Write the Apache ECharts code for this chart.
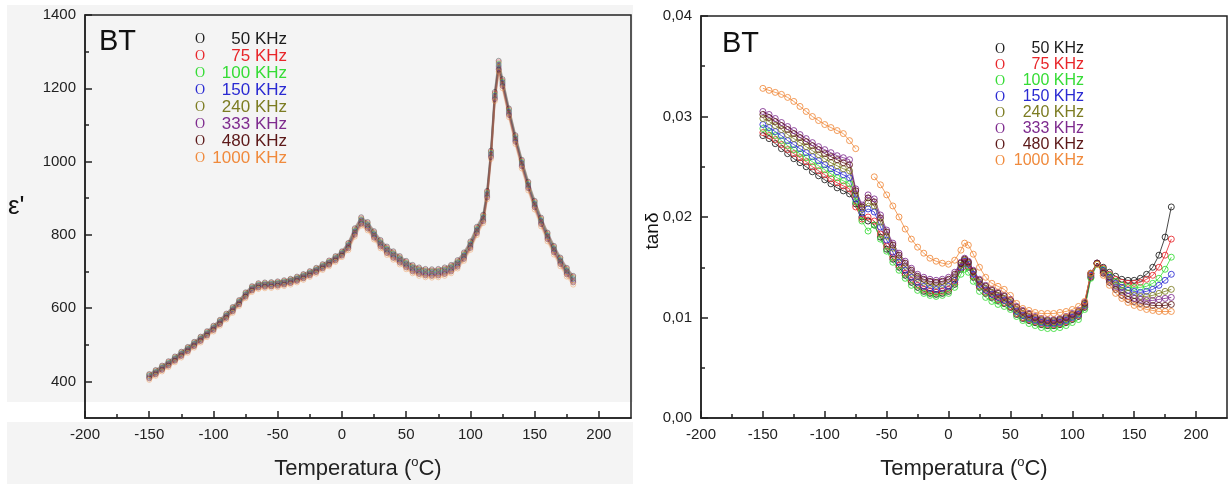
<!DOCTYPE html>
<html><head><meta charset="utf-8">
<script src="https://cdn.jsdelivr.net/npm/echarts@6/dist/echarts.min.js"></script>
<style>html,body{margin:0;padding:0;background:#fff}#c{width:1229px;height:484px}</style>
</head><body><div id="c"></div>
<script>
// ---------- data ----------
const freqNames = ['50 KHz','75 KHz','100 KHz','150 KHz','240 KHz','333 KHz','480 KHz','1000 KHz'];
const freqColors = ['#1c1c1c','#e8262a','#35dc35','#2a2ad2','#7c7c22','#7e2b8e','#5c1818','#f08a3c'];

// Left panel: permittivity vs temperature
const tempLeft = [-150,-145,-140,-135,-130,-125,-120,-115,-110,-105,-100,-95,-90,-85,-80,-75,-70,-65,-60,-55,-50,-45,-40,-35,-30,-25,-20,-15,-10,-5,0,5,10,15,20,25,30,35,40,45,50,55,60,65,70,75,80,85,90,95,100,105,110,113,116,119,122,125,130,135,140,145,150,155,160,165,170,175,180];
const eps50 = [420,431,443,455,468,481,494,508,522,537,552,568,585,603,622,643,660,668,670,671,673,676,680,686,693,701,710,720,730,742,755,778,818,848,835,810,786,768,755,742,729,718,711,707,706,707,711,718,731,752,782,822,855,920,1030,1190,1275,1225,1145,1072,1005,945,893,847,806,770,738,710,688];
const eps75 = [418,429,441,453,466,479,492,506,520,535,550,566,583,601,620,641,658,666,668,669,671,674,678,684,691,699,708,718,728,740,753,776,815,845,832,807,783,765,752,739,726,715,708,704,703,704,708,715,728,749,779,819,852,917,1027,1186,1271,1221,1142,1069,1002,942,890,844,803,767,735,707,685];
const eps100 = [416,427,439,451,464,477,490,504,518,533,548,564,581,599,618,639,656,664,666,667,669,672,676,682,689,697,706,716,726,738,751,773,812,842,829,804,780,762,749,736,723,712,705,701,700,701,705,712,725,746,776,816,849,914,1024,1182,1267,1218,1139,1066,999,939,887,841,800,764,732,704,682];
const eps150 = [414,425,437,449,462,475,488,502,516,531,546,562,579,597,616,637,654,662,664,665,667,670,674,680,687,695,704,714,724,736,749,771,809,839,826,801,777,759,746,733,720,709,702,698,697,698,702,709,722,743,773,813,846,911,1021,1179,1263,1215,1136,1063,996,936,884,838,797,761,729,701,679];
const eps240 = [412,423,435,447,460,473,486,500,514,529,544,560,577,595,614,635,652,660,662,663,665,668,672,678,685,693,702,712,722,734,747,768,806,836,823,798,774,756,743,730,717,706,699,695,694,695,699,706,719,740,770,810,843,908,1018,1176,1259,1212,1133,1060,993,933,881,835,794,758,726,698,676];
const eps333 = [410,421,433,445,458,471,484,498,512,527,542,558,575,593,612,633,650,658,660,661,663,666,670,676,683,691,700,710,720,732,745,766,803,833,820,795,771,753,740,727,714,703,696,692,691,692,696,703,716,737,767,807,840,905,1015,1173,1255,1209,1130,1057,990,930,878,832,791,755,723,695,673];
const eps480 = [408,419,431,443,456,469,482,496,510,525,540,556,573,591,610,631,648,656,658,659,661,664,668,674,681,689,698,708,718,730,743,763,800,830,817,792,768,750,737,724,711,700,693,689,688,689,693,700,713,734,764,804,837,902,1012,1170,1251,1206,1127,1054,987,927,875,829,788,752,720,692,670];
const eps1000 = [404,415,427,439,452,465,478,492,506,521,536,552,569,587,606,627,644,652,654,655,657,660,664,670,677,685,694,704,714,726,739,758,795,825,812,787,763,745,732,719,706,695,688,684,683,684,688,695,708,729,759,799,832,897,1007,1165,1245,1200,1121,1048,981,921,869,823,782,746,714,686,664];

// Right panel: loss tangent vs temperature
const tempRight = [-150,-145,-140,-135,-130,-125,-120,-115,-110,-105,-100,-95,-90,-85,-80,-75,-70,-65,-60,-55,-50,-45,-40,-35,-30,-25,-20,-15,-10,-5,0,5,10,13,16,20,25,30,35,40,45,50,55,60,65,70,75,80,85,90,95,100,105,110,115,120,125,130,135,140,145,150,155,160,165,170,175,180];
const tan50 = [0.0281,0.0278,0.0273,0.0268,0.0263,0.0258,0.0254,0.0250,0.0245,0.0241,
  0.0237,0.0233,0.0229,0.0226,0.0223,0.0213,0.0200,0.0196,0.0192,0.0180,
  0.0168,0.0158,0.0150,0.0142,0.0135,0.0130,0.0126,0.0124,0.0123,0.0124,
  0.0126,0.0133,0.0148,0.0154,0.0150,0.0140,0.0130,0.0124,0.0120,0.0117,
  0.0114,0.0110,0.0103,0.0099,0.0097,0.0095,0.0093,0.0092,0.0092,0.0093,
  0.0095,0.0098,0.0101,0.0110,0.0140,0.0154,0.0150,0.0145,0.0141,0.0138,
  0.0137,0.0137,0.0139,0.0143,0.0150,0.0162,0.0180,0.0210];
const tan75 = [0.0284,0.0281,0.0277,0.0272,0.0267,0.0263,0.0259,0.0255,0.0250,0.0246,
  0.0242,0.0238,0.0234,0.0231,0.0228,0.0210,0.0198,0.0200,0.0196,0.0183,
  0.0171,0.0160,0.0152,0.0144,0.0137,0.0132,0.0128,0.0126,0.0125,0.0126,
  0.0128,0.0135,0.0149,0.0155,0.0151,0.0141,0.0131,0.0125,0.0121,0.0118,
  0.0115,0.0111,0.0104,0.0100,0.0098,0.0096,0.0094,0.0093,0.0093,0.0094,
  0.0096,0.0099,0.0102,0.0111,0.0141,0.0154,0.0149,0.0143,0.0138,0.0135,
  0.0134,0.0134,0.0135,0.0138,0.0142,0.0150,0.0162,0.0178];
const tan100 = [0.0288,0.0285,0.0281,0.0276,0.0271,0.0267,0.0263,0.0259,0.0255,0.0251,
  0.0247,0.0243,0.0239,0.0236,0.0233,0.0215,0.0196,0.0186,0.0192,0.0178,
  0.0166,0.0155,0.0147,0.0139,0.0132,0.0127,0.0124,0.0122,0.0121,0.0122,
  0.0124,0.0130,0.0143,0.0148,0.0145,0.0136,0.0126,0.0120,0.0116,0.0113,
  0.0111,0.0108,0.0101,0.0097,0.0094,0.0092,0.0090,0.0089,0.0089,0.0090,
  0.0092,0.0095,0.0098,0.0108,0.0139,0.0153,0.0148,0.0142,0.0136,0.0132,
  0.0130,0.0130,0.0130,0.0131,0.0134,0.0139,0.0148,0.0160];
const tan150 = [0.0292,0.0289,0.0285,0.0281,0.0276,0.0272,0.0268,0.0264,0.0260,0.0256,
  0.0252,0.0248,0.0245,0.0242,0.0239,0.0218,0.0204,0.0208,0.0205,0.0190,
  0.0177,0.0165,0.0155,0.0147,0.0140,0.0135,0.0131,0.0129,0.0128,0.0129,
  0.0131,0.0137,0.0150,0.0156,0.0153,0.0143,0.0133,0.0127,0.0123,0.0120,
  0.0117,0.0113,0.0106,0.0102,0.0099,0.0097,0.0095,0.0094,0.0094,0.0095,
  0.0097,0.0100,0.0103,0.0112,0.0142,0.0154,0.0147,0.0140,0.0134,0.0130,
  0.0127,0.0126,0.0125,0.0126,0.0128,0.0132,0.0137,0.0143];
const tan240 = [0.0298,0.0295,0.0291,0.0287,0.0282,0.0278,0.0274,0.0270,0.0266,0.0262,
  0.0258,0.0254,0.0251,0.0248,0.0246,0.0222,0.0208,0.0214,0.0211,0.0195,
  0.0181,0.0169,0.0159,0.0151,0.0144,0.0139,0.0135,0.0133,0.0132,0.0133,
  0.0135,0.0140,0.0152,0.0157,0.0154,0.0145,0.0135,0.0129,0.0125,0.0122,
  0.0119,0.0115,0.0108,0.0104,0.0101,0.0099,0.0097,0.0096,0.0096,0.0097,
  0.0099,0.0102,0.0105,0.0113,0.0143,0.0154,0.0146,0.0138,0.0132,0.0127,
  0.0124,0.0122,0.0121,0.0121,0.0122,0.0124,0.0126,0.0128];
const tan333 = [0.0305,0.0302,0.0298,0.0294,0.0290,0.0286,0.0282,0.0278,0.0274,0.0270,
  0.0267,0.0264,0.0261,0.0259,0.0257,0.0228,0.0212,0.0222,0.0218,0.0202,
  0.0187,0.0174,0.0164,0.0156,0.0149,0.0143,0.0140,0.0138,0.0137,0.0138,
  0.0140,0.0145,0.0155,0.0159,0.0156,0.0147,0.0138,0.0132,0.0128,0.0125,
  0.0122,0.0118,0.0111,0.0107,0.0104,0.0101,0.0099,0.0098,0.0098,0.0099,
  0.0101,0.0104,0.0107,0.0115,0.0144,0.0154,0.0145,0.0137,0.0130,0.0125,
  0.0121,0.0119,0.0118,0.0117,0.0117,0.0118,0.0119,0.0120];
const tan480 = [0.0302,0.0299,0.0295,0.0291,0.0287,0.0283,0.0279,0.0275,0.0271,0.0267,
  0.0263,0.0260,0.0257,0.0254,0.0252,0.0226,0.0210,0.0219,0.0215,0.0199,
  0.0185,0.0172,0.0162,0.0154,0.0147,0.0141,0.0138,0.0136,0.0135,0.0136,
  0.0138,0.0143,0.0154,0.0158,0.0155,0.0146,0.0137,0.0131,0.0127,0.0124,
  0.0121,0.0117,0.0110,0.0106,0.0103,0.0100,0.0098,0.0097,0.0097,0.0098,
  0.0100,0.0103,0.0106,0.0114,0.0144,0.0154,0.0144,0.0135,0.0128,0.0122,
  0.0118,0.0116,0.0114,0.0113,0.0112,0.0112,0.0112,0.0113];
const tan1000 = [0.0328,0.0326,0.0324,0.0322,0.0319,0.0315,0.0310,0.0305,0.0300,0.0296,
  0.0292,0.0289,0.0286,0.0283,0.0276,0.0268,null,null,0.0240,0.0232,
  0.0222,0.0211,0.0200,0.0188,0.0178,0.0170,0.0164,0.0159,0.0156,0.0154,
  0.0153,0.0157,0.0167,0.0174,0.0172,0.0163,0.0150,0.0140,0.0134,0.0131,
  0.0128,0.0122,0.0114,0.0109,0.0107,0.0105,0.0104,0.0104,0.0104,0.0105,
  0.0106,0.0108,0.0111,0.0116,0.0144,0.0153,0.0142,0.0132,0.0124,0.0119,
  0.0115,0.0112,0.0110,0.0108,0.0107,0.0106,0.0106,0.0106];

// ticks
const xMajorTicks = [-200,-150,-100,-50,0,50,100,150,200];
const xMinorTicks = [-175,-125,-75,-25,25,75,125,175];
const epsMajorTicks = [400,600,800,1000,1200,1400];
const epsMinorTicks = [500,700,900,1100,1300];
const tanMajorTicks = [0,0.01,0.02,0.03,0.04];
const tanMinorTicks = [0.005,0.015,0.025,0.035];

// ---------- chart ----------
const FONT = '"Liberation Sans", Arial, Helvetica, sans-serif';
const INK = '#222';
const chart = echarts.init(document.getElementById('c'));
const leftVals = [eps50, eps75, eps100, eps150, eps240, eps333, eps480, eps1000];
const rightVals = [tan50, tan75, tan100, tan150, tan240, tan333, tan480, tan1000];
const pairs = (ts, vs) => ts.map((t, i) => [t, vs[i] === null ? '-' : vs[i]]);

function majorAxis(gridIndex, min, max, ticks, extra) {
  return Object.assign({
    type: 'value', gridIndex, min, max,
    axisLine: { show: true, onZero: false, lineStyle: { color: INK, width: 1.5 } },
    axisTick: { show: true, inside: true, length: 7, customValues: ticks, lineStyle: { color: INK, width: 1.5 } },
    axisLabel: { customValues: ticks, color: INK, fontSize: 15, fontFamily: FONT, margin: 9, formatter: v => String(v) },
    splitLine: { show: false }
  }, extra || {});
}
function minorAxis(gridIndex, min, max, ticks, position) {
  return {
    type: 'value', gridIndex, min, max, position, offset: 0,
    axisLine: { show: false, onZero: false },
    axisTick: { show: true, inside: true, length: 4, customValues: ticks, lineStyle: { color: INK, width: 1.5 } },
    axisLabel: { show: false }, splitLine: { show: false }
  };
}
const titleName = 'Temperatura ({s|o}C)';
const nameStyle = { fontSize: 22, fontFamily: FONT, color: INK, lineHeight: 26,
  rich: { s: { fontSize: 13, fontFamily: FONT, color: INK, lineHeight: 14, verticalAlign: 'top' } } };

const series = [];
freqNames.forEach((n, i) => {
  series.push({
    name: n, type: 'line', xAxisIndex: 0, yAxisIndex: 0,
    data: pairs(tempLeft, leftVals[i]),
    symbol: 'circle', symbolSize: 5,
    itemStyle: { color: 'rgba(0,0,0,0)', borderColor: freqColors[i], borderWidth: 1, opacity: 0.4 },
    lineStyle: { color: freqColors[i], width: 2, opacity: 0.3 },
    emphasis: { disabled: true }, silent: true
  });
});
freqNames.forEach((n, i) => {
  series.push({
    name: n, type: 'line', xAxisIndex: 2, yAxisIndex: 2,
    data: pairs(tempRight, rightVals[i]), connectNulls: false,
    symbol: 'circle', symbolSize: 6,
    itemStyle: { color: 'rgba(0,0,0,0)', borderColor: freqColors[i], borderWidth: 1, opacity: 0.85 },
    lineStyle: { color: freqColors[i], width: 1, opacity: 0.8 },
    emphasis: { disabled: true }, silent: true
  });
});

function legendFor(left, top, fs, tw) {
  return {
    orient: 'vertical', left, top, itemWidth: 0, itemHeight: 10, itemGap: 0,
    icon: 'rect', itemStyle: { color: 'rgba(0,0,0,0)', borderWidth: 0 },
    selectedMode: false, padding: 0,
    data: freqNames.map((n, i) => ({ name: n, textStyle: { color: freqColors[i] } })),
    formatter: n => '{o|O}{t|' + n + '}',
    textStyle: { fontSize: fs, fontFamily: FONT,
      rich: { o: { fontFamily: '"Liberation Serif", "DejaVu Serif", serif', fontSize: 14, width: 10, lineHeight: 21.4 },
              t: { fontSize: fs, fontFamily: FONT, width: tw, align: 'right', lineHeight: 21.4 } } }
  };
}

chart.setOption({
  animation: false,
  backgroundColor: '#fff',
  grid: [
    { left: 85, top: 15, width: 546, height: 403, show: true, borderColor: INK, borderWidth: 1.5, backgroundColor: 'transparent', outerBoundsMode: 'none', containLabel: false },
    { left: 701, top: 16, width: 526, height: 402, show: true, borderColor: INK, borderWidth: 1.5, backgroundColor: 'transparent', outerBoundsMode: 'none', containLabel: false }
  ],
  xAxis: [
    majorAxis(0, -200, 225, xMajorTicks, { position: 'bottom', name: titleName, nameLocation: 'middle', nameGap: 38, nameTextStyle: nameStyle }),
    minorAxis(0, -200, 225, xMinorTicks, 'bottom'),
    majorAxis(1, -200, 225, xMajorTicks, { position: 'bottom', name: titleName, nameLocation: 'middle', nameGap: 38, nameTextStyle: nameStyle }),
    minorAxis(1, -200, 225, xMinorTicks, 'bottom')
  ],
  yAxis: [
    majorAxis(0, 300, 1400, epsMajorTicks, { position: 'left' }),
    minorAxis(0, 300, 1400, epsMinorTicks, 'left'),
    majorAxis(1, 0, 0.04, tanMajorTicks, { position: 'left',
      axisLabel: { customValues: tanMajorTicks, color: INK, fontSize: 15, fontFamily: FONT, margin: 9,
        formatter: v => v.toFixed(2).replace('.', ',') } }),
    minorAxis(1, 0, 0.04, tanMinorTicks, 'left')
  ],
  legend: [legendFor(190, 31, 17, 82), legendFor(990, 41, 16, 79)],
  graphic: [
    { type: 'rect', z: -10, silent: true, shape: { x: 7, y: 5, width: 626, height: 397 }, style: { fill: '#f4f4f4' } },
    { type: 'rect', z: -10, silent: true, shape: { x: 7, y: 422, width: 626, height: 62 }, style: { fill: '#f4f4f4' } },
    { type: 'text', x: 99, y: 42, style: { text: 'BT', fontSize: 29, fontFamily: FONT, fill: '#111', verticalAlign: 'middle' } },
    { type: 'text', x: 722, y: 44, style: { text: 'BT', fontSize: 29, fontFamily: FONT, fill: '#111', verticalAlign: 'middle' } },
    { type: 'text', x: 8, y: 207, style: { text: "ε'", fontSize: 26, fontFamily: FONT, fill: '#111', verticalAlign: 'middle' } },
    { type: 'text', x: 653, y: 231, rotation: Math.PI / 2, style: { text: 'tanδ', fontSize: 19, fontFamily: FONT, fill: '#111', align: 'center', verticalAlign: 'middle' } }
  ],
  series
});
</script>
</body></html>
